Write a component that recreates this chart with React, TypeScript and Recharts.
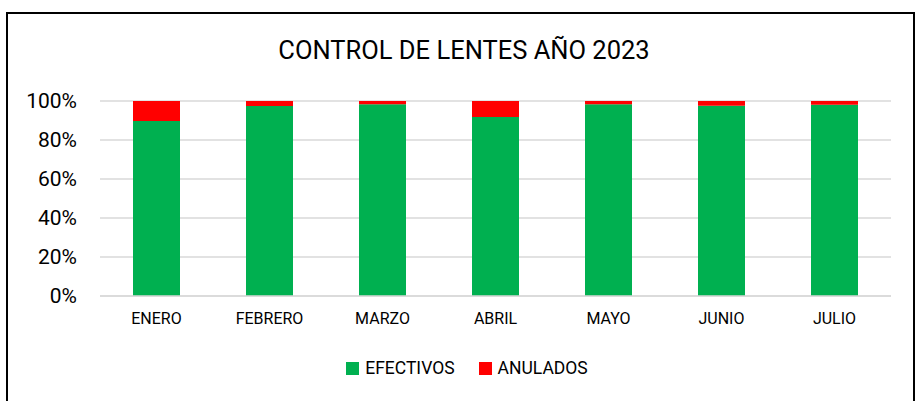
import React from 'react'
import { BarChart, Bar, XAxis, YAxis, CartesianGrid } from 'recharts'

const months = ['ENERO', 'FEBRERO', 'MARZO', 'ABRIL', 'MAYO', 'JUNIO', 'JULIO']
const efectivos = [0.897, 0.974, 0.983, 0.918, 0.983, 0.976, 0.981]
const anulados = [0.103, 0.026, 0.017, 0.082, 0.017, 0.024, 0.019]
const yTicks = [0, 0.2, 0.4, 0.6, 0.8, 1]

const series = [
  { key: 'efectivos', name: 'EFECTIVOS', color: '#00b050' },
  { key: 'anulados', name: 'ANULADOS', color: '#ff0000' },
]

const data = months.map((name, i) => ({ name, efectivos: efectivos[i], anulados: anulados[i] }))

const FONT = 'Roboto, "Liberation Sans", Arial, sans-serif'

const App: React.FC = () => {
  return (
    <div style={{ position: 'absolute', left: 0, top: 0, width: 921, height: 401, overflow: 'hidden', background: '#fff' }}>
      <div
        style={{
          position: 'absolute',
          left: 6,
          top: 12,
          width: 905,
          height: 400,
          border: '2px solid #000',
        }}
      />
      <svg style={{ position: 'absolute', left: 0, top: 0 }} width={921} height={401}>
        <text x={464} y={59} textAnchor="middle" fontFamily={FONT} fontSize={25.5} fill="#000">
          CONTROL DE LENTES AÑO 2023
        </text>
      </svg>
      <div style={{ position: 'absolute', left: 0, top: 0 }}>
        <BarChart
          width={921}
          height={401}
          data={data}
          margin={{ top: 101, right: 30, left: 0, bottom: 75 }}
          barSize={47}
        >
          <CartesianGrid vertical={false} stroke="#d9d9d9" strokeWidth={1.5} />
          <XAxis
            dataKey="name"
            height={30}
            stroke="#d9d9d9"
            strokeWidth={1.5}
            tickLine={false}
            tickSize={0}
            tickMargin={17}
            interval={0}
            tick={{ fill: '#000', fontSize: 16, fontFamily: FONT }}
          />
          <YAxis
            domain={[0, 1]}
            ticks={yTicks}
            interval={0}
            width={100}
            axisLine={false}
            tickLine={false}
            tickSize={0}
            tickMargin={23}
            tickFormatter={(v: number) => `${Math.round(v * 100)}%`}
            tick={{ fill: '#000', fontSize: 21, fontFamily: FONT }}
          />
          {series.map((s) => (
            <Bar key={s.key} dataKey={s.key} name={s.name} stackId="a" fill={s.color} isAnimationActive={false} />
          ))}
        </BarChart>
      </div>
      <div
        style={{
          position: 'absolute',
          top: 357,
          left: 0,
          width: 921,
          display: 'flex',
          justifyContent: 'center',
          alignItems: 'center',
          paddingLeft: 13,
          boxSizing: 'border-box',
          fontFamily: FONT,
          fontSize: 17.5,
          lineHeight: '22px',
          color: '#000',
        }}
      >
        {series.map((s, i) => (
          <div key={s.key} style={{ display: 'flex', alignItems: 'center', marginLeft: i === 0 ? 0 : 24 }}>
            <span style={{ display: 'inline-block', width: 13, height: 13, background: s.color, marginRight: 6 }} />
            <span>{s.name}</span>
          </div>
        ))}
      </div>
    </div>
  )
}

export default App
